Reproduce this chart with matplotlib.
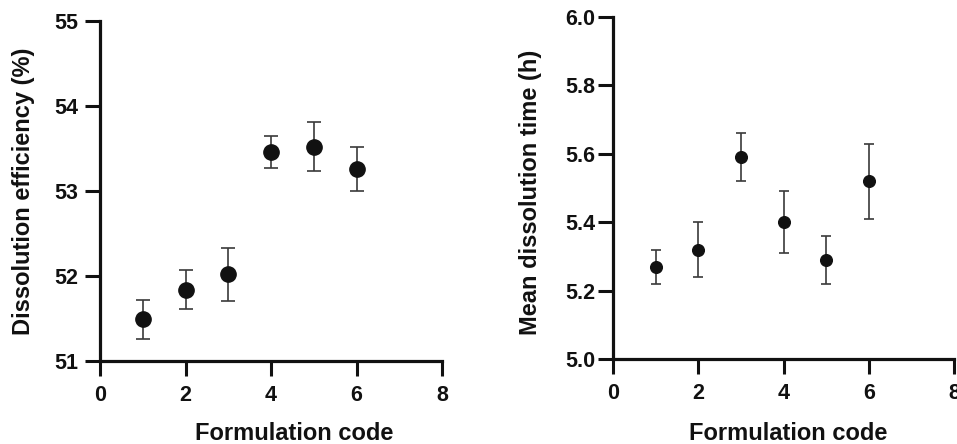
import matplotlib
matplotlib.use("Agg")
import matplotlib.pyplot as plt

plt.rcParams['font.family'] = ['Liberation Sans', 'DejaVu Sans']
plt.rcParams['font.weight'] = 'bold'

codes = [1, 2, 3, 4, 5, 6]
de_mean = [51.49, 51.84, 52.02, 53.46, 53.52, 53.26]
de_err = [0.23, 0.23, 0.31, 0.19, 0.29, 0.255]
mdt_mean = [5.27, 5.32, 5.59, 5.40, 5.29, 5.52]
mdt_err = [0.05, 0.08, 0.07, 0.09, 0.07, 0.11]

W, H = 957, 444
fig = plt.figure(figsize=(W / 100, H / 100), dpi=100)

def axrect(x0, y0, x1, y1):
    return [x0 / W, 1 - y1 / H, (x1 - x0) / W, (y1 - y0) / H]

ax1 = fig.add_axes(axrect(100, 21, 442, 361))
ax2 = fig.add_axes(axrect(613, 17, 954, 359))

def style(ax, ypad):
    for s in ['top', 'right']:
        ax.spines[s].set_visible(False)
    for s in ['left', 'bottom']:
        ax.spines[s].set_linewidth(2.3)
        ax.spines[s].set_color('#111111')
        ax.spines[s].set_capstyle('projecting')
    ax.tick_params(direction='out', length=10.5, width=2.2, color='#111111',
                   labelsize=15.5, labelcolor='#111111')
    ax.tick_params(axis='x', pad=7)
    ax.tick_params(axis='y', pad=ypad)
    for lab in ax.get_xticklabels() + ax.get_yticklabels():
        lab.set_fontweight('bold')

ax1.errorbar(codes, de_mean, yerr=de_err, fmt='o', color='#111111', ms=11,
             ecolor='#3a3a3a', elinewidth=1.2, capsize=4.7, capthick=1.2,
             clip_on=False)
ax1.set_xlim(0, 8)
ax1.set_ylim(51, 55)
ax1.set_xticks([0, 2, 4, 6, 8])
ax1.set_yticks([51, 52, 53, 54, 55])
style(ax1, 5)

ax2.errorbar(codes, mdt_mean, yerr=mdt_err, fmt='o', color='#111111', ms=8.4,
             ecolor='#3a3a3a', elinewidth=1.2, capsize=3.8, capthick=1.2,
             clip_on=False)
ax2.set_xlim(0, 8)
ax2.set_ylim(5.0, 6.0)
ax2.set_xticks([0, 2, 4, 6, 8])
ax2.set_yticks([5.0, 5.2, 5.4, 5.6, 5.8, 6.0])
ax2.set_yticklabels(['5.0', '5.2', '5.4', '5.6', '5.8', '6.0'])
style(ax2, 2.5)

lab_kw = dict(fontsize=17, fontweight='bold', color='#111111')
fig.text(24 / W, 1 - 191 / H, 'Dissolution efficiency (%)', rotation=90,
         ha='center', va='center', **lab_kw)
fig.text(294 / W, 1 - 440 / H, 'Formulation code', ha='center',
         va='baseline', **lab_kw)
fig.text(531 / W, 1 - 192 / H, 'Mean dissolution time (h)', rotation=90,
         ha='center', va='center', **lab_kw)
fig.text(788 / W, 1 - 440 / H, 'Formulation code', ha='center',
         va='baseline', **lab_kw)

fig.savefig('out.png', dpi=100)
